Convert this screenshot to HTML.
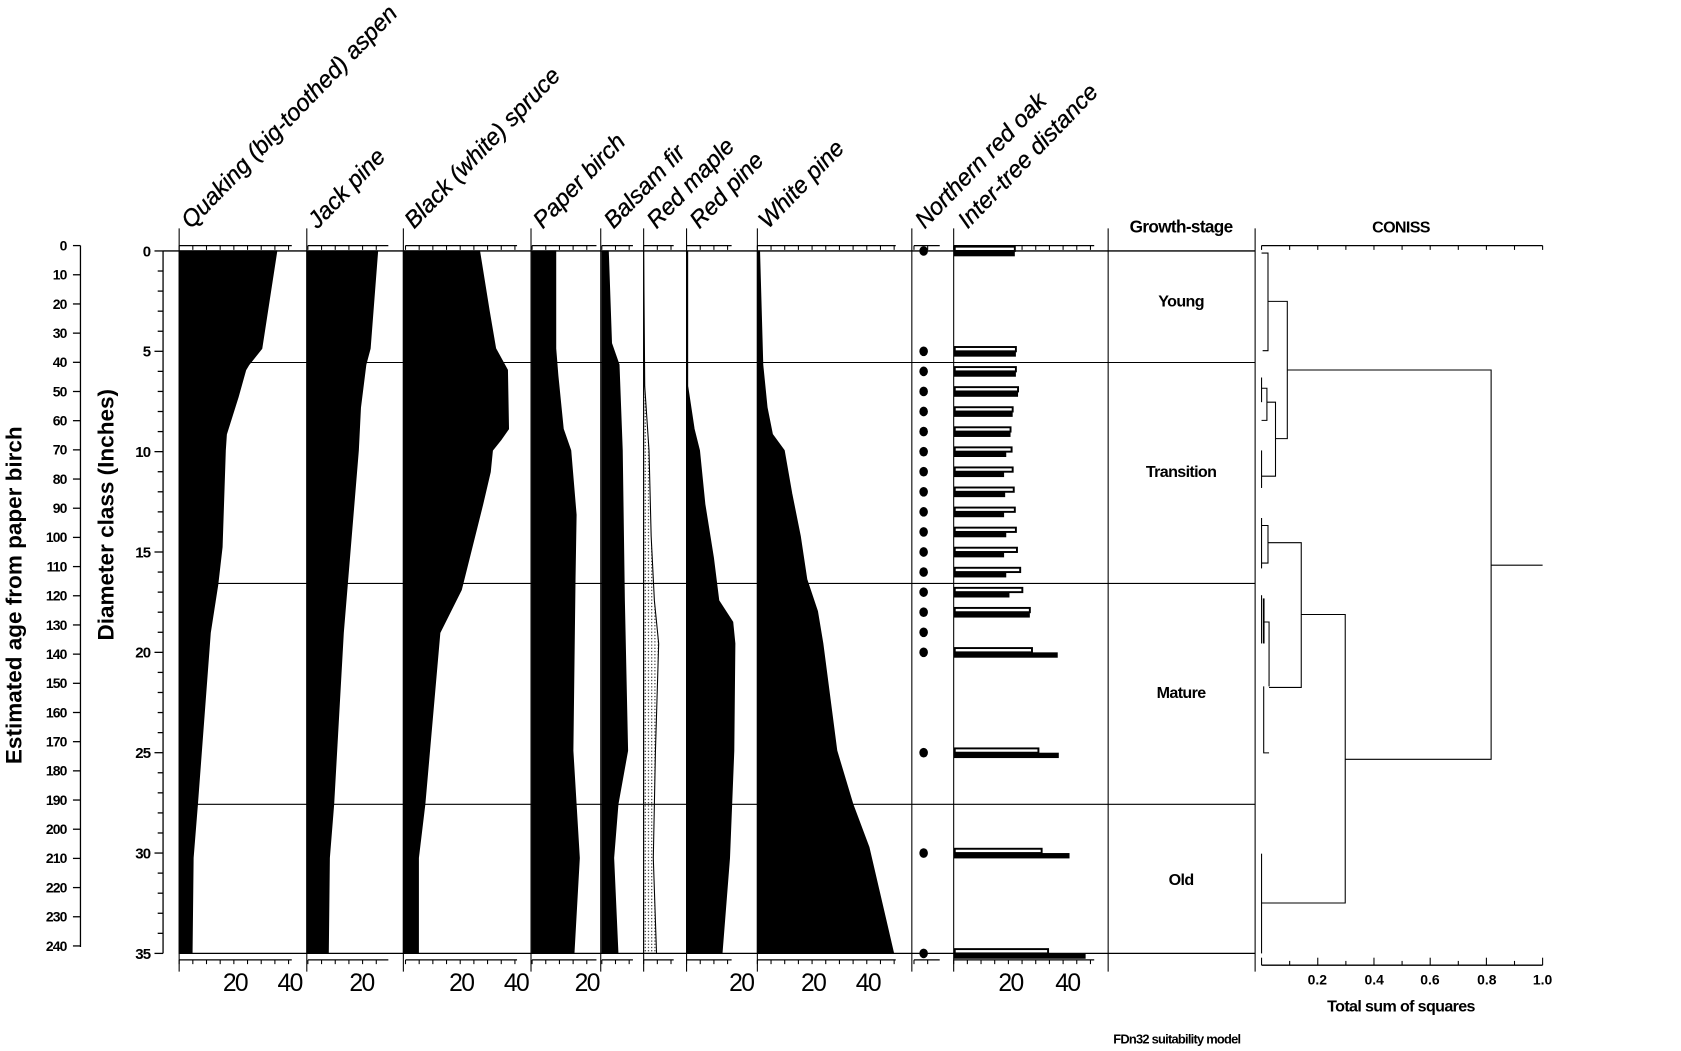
<!DOCTYPE html>
<html><head><meta charset="utf-8"><style>html,body{margin:0;padding:0;background:#fff}svg{display:block}</style></head>
<body>
<svg width="1681" height="1051" viewBox="0 0 1567 980" preserveAspectRatio="none" xmlns="http://www.w3.org/2000/svg" font-family="Liberation Sans, Arial, sans-serif">
<defs>
<pattern id="dots" width="3" height="3" patternUnits="userSpaceOnUse"><rect width="3" height="3" fill="#fff"/><rect x="1" y="1" width="1" height="1" fill="#000"/></pattern>
</defs>
<g id="g"></g>
<script>
(function(){
const NS="http://www.w3.org/2000/svg";const g=document.getElementById('g');
function el(t,a,txt){const e=document.createElementNS(NS,t);for(const k in a)e.setAttribute(k,a[k]);if(txt!==undefined)e.textContent=txt;g.appendChild(e);return e;}
function ln(x1,y1,x2,y2,w){el('line',{x1,y1,x2,y2,stroke:'#000','stroke-width':w||1});}
const Y0=234,DY=18.714;const yd=d=>Y0+d*DY;
ln(75,229,75,883,1.2);
for(let a=0;a<=240;a+=10){const y=229+a*2.721;ln(68,y,75,y,1.2);el('text',{x:62,y:y+4.5,'text-anchor':'end','font-size':13,'font-weight':'bold','letter-spacing':'-0.8'},a);}
el('text',{x:0,y:0,transform:'translate(20,555) rotate(-90)','text-anchor':'middle','font-size':21,'font-weight':'bold'},'Estimated age from paper birch');
ln(152,234,152,889,1.2);
for(let d=0;d<=35;d++){const y=yd(d);const m=d%5==0;ln(m?144:147,y,152,y,1.2);if(m)el('text',{x:140,y:y+5,'text-anchor':'end','font-size':14,'font-weight':'bold','letter-spacing':'-0.8'},d);}
el('text',{x:0,y:0,transform:'translate(106,480) rotate(-90)','text-anchor':'middle','font-size':21,'font-weight':'bold'},'Diameter class (Inches)');
[167,286,376,495,560,600,640,706,850,889,1033,1170].forEach(x=>ln(x,213,x,906,1));
function poly(z,pts,fill){let p=[[z,Y0]];pts.forEach(q=>p.push([q[1],q[0]]));p.push([z,889]);el('polygon',{points:p.map(q=>q.join(',')).join(' '),fill:fill||'#000',stroke:'#000','stroke-width':1});}
poly(167,[[234,258],[325,244],[340,232],[345,229],[370,222],[405,211],[420,210],[510,207],[545,203],[590,196],[750,184],[800,180],[889,179]]);
poly(286,[[234,352],[325,345],[340,341],[380,336],[420,334],[590,320],[750,311],[800,307],[889,306]]);
poly(376,[[234,447],[290,456],[325,462],[345,473],[400,474],[410,467],[420,459],[440,457],[470,450],[550,430],[590,410],[750,396],[800,390],[889,390]]);
poly(496,[[234,518],[325,518],[350,520],[400,525],[420,532],[480,537],[540,536],[700,534],[800,540],[889,535]]);
poly(561,[[234,567],[320,570],[340,577],[420,580],[560,582],[700,585],[750,576],[800,572],[889,576]]);
poly(600,[[234,600],[360,601],[420,605],[500,607],[560,610],[600,614],[700,611],[800,609],[889,612]],'url(#dots)');
poly(640,[[234,641],[360,641],[400,647],[420,652],[470,657],[520,665],[560,670],[580,683],[600,685],[700,684],[800,680],[889,673]]);
poly(706,[[234,708],[340,711],[380,715],[405,720],[420,731],[460,738],[500,746],[540,752],[570,762],[600,767],[700,780],[750,795],[790,810],[889,833]]);
ln(152,234,1170,234,1.2);ln(167,889,1170,889,1.2);
[338,544,750].forEach(y=>ln(167,y,1170,y,1));
function tAxis(z,end,y,dir){ln(z,y,end,y,1.2);for(let x=z;x<=end+0.5;x+=12.75)ln(x,y,x,y+4*dir,1);}
[[167,272],[287,362],[378,482],[496,556],[561,590],[600,628],[640,682],[706,835],[852,876],[889,1020]].forEach(a=>{tAxis(a[0],a[1],229,1);tAxis(a[0],a[1],895,1);});
[[219,'20'],[270,'40'],[337,'20'],[430,'20'],[481,'40'],[547,'20'],[691,'20'],[758,'20'],[809,'40'],[942,'20'],[995,'40']].forEach(l=>el('text',{x:l[0],y:924,'text-anchor':'middle','font-size':23,'letter-spacing':'-1.5'},l[1]));
const bars={0:[946,946],5:[947,947],6:[947,947],7:[949,949],8:[944,944],9:[942,942],10:[943,938],11:[944,936],12:[945,937],13:[946,936],14:[947,938],15:[948,936],16:[951,938],17:[953,941],18:[960,960],20:[962,986],25:[968,987],30:[971,997],35:[977,1012]};
[0,5,6,7,8,9,10,11,12,13,14,15,16,17,18,19,20,25,30,35].forEach(d=>{const y=yd(d);el('ellipse',{cx:861,cy:y,rx:4,ry:4.5,fill:'#000'});
 if(bars[d]){const [A,B]=bars[d];el('rect',{x:889,y:y,width:B-889,height:5,fill:'#000'});el('rect',{x:890,y:y-4,width:A-890,height:4,fill:'#fff',stroke:'#000','stroke-width':1.8});}});
[[172,'Quaking (big-toothed) aspen'],[290,'Jack pine'],[380,'Black (white) spruce'],[500,'Paper birch'],[566,'Balsam fir'],[606,'Red maple'],[646,'Red pine'],[710,'White pine'],[856,'Northern red oak'],[896,'Inter-tree distance']].forEach(l=>el('text',{x:0,y:0,transform:`translate(${l[0]+6},214) rotate(-46)`,'font-size':22,'font-style':'italic','stroke':'#000','stroke-width':0.3},l[1]));
el('text',{x:1101,y:217,'text-anchor':'middle','font-size':16,'font-weight':'bold','letter-spacing':'-0.6'},'Growth-stage');
[[286,'Young'],[445,'Transition'],[651,'Mature'],[825,'Old']].forEach(l=>el('text',{x:1101,y:l[0],'text-anchor':'middle','font-size':15,'font-weight':'bold','letter-spacing':'-0.6'},l[1]));
el('text',{x:1306,y:217,'text-anchor':'middle','font-size':15,'font-weight':'bold','letter-spacing':'-0.6'},'CONISS');
ln(1176,229,1438,229,1.2);for(let i=0;i<=10;i++){const x=1176+i*26.2;ln(x,229,x,233,1);}
ln(1176,900,1438,900,1.2);for(let i=0;i<=10;i++){const x=1176+i*26.2;ln(x,900,x,896-(i%2==0?3:0),1);}
[['0.2',1228],['0.4',1281],['0.6',1333],['0.8',1386],['1.0',1438]].forEach(l=>el('text',{x:l[1],y:918,'text-anchor':'middle','font-size':13,'font-weight':'bold'},l[0]));
el('text',{x:1306,y:943,'text-anchor':'middle','font-size':15,'font-weight':'bold','letter-spacing':'-0.6'},'Total sum of squares');
el('text',{x:1097,y:973,'text-anchor':'middle','font-size':12,'font-weight':'bold','letter-spacing':'-0.7'},'FDn32 suitability model');
function pl(pts,w){el('polyline',{points:pts.map(q=>q.join(',')).join(' '),fill:'none',stroke:'#000','stroke-width':w||1});}
pl([[1176,236],[1182,236],[1182,327],[1177,327]]);
pl([[1182,281],[1200,281],[1200,409],[1189,409]]);
pl([[1200,345],[1390,345],[1390,708],[1254,708]]);
pl([[1390,527],[1438,527]]);
pl([[1176,352],[1176,375]]);pl([[1176,362],[1181,362],[1181,392],[1176,392]]);
pl([[1181,375],[1189,375],[1189,444],[1176,444]]);pl([[1176,420],[1176,455]]);
pl([[1176,483],[1176,530]]);pl([[1176,490],[1182,490],[1182,525],[1176,525]]);
pl([[1182,506],[1213,506],[1213,641],[1183,641]]);
pl([[1176,555],[1176,600]]);pl([[1178,558],[1178,600]],1.6);pl([[1178,580],[1183,580],[1183,640]]);pl([[1178,640],[1178,702],[1183,702]]);
pl([[1213,573],[1254,573],[1254,842],[1176,842]]);
pl([[1176,796],[1176,889]]);
})();
</script>
</svg>
</body></html>
